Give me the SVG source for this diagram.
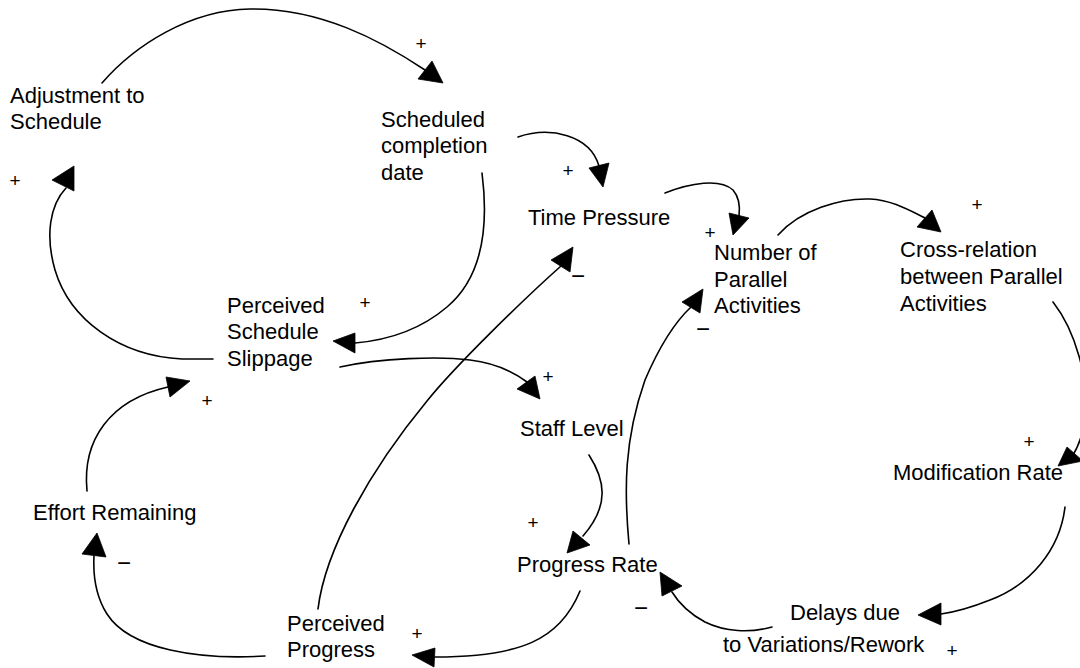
<svg xmlns="http://www.w3.org/2000/svg" width="1080" height="668" viewBox="0 0 1080 668">
<style>
.lbl{font-family:"Liberation Sans",Arial,sans-serif;font-size:22px;fill:#000}
.pl{font-family:"Liberation Sans",Arial,sans-serif;font-size:19px;fill:#000;text-anchor:middle}
.mn{font-family:"Liberation Sans",Arial,sans-serif;font-size:24px;fill:#000;text-anchor:middle}
.ln{fill:none;stroke:#000;stroke-width:1.6;stroke-linecap:round}
.ah{fill:#000;stroke:#000;stroke-width:0.8;stroke-linejoin:round}
</style>
<rect width="1080" height="668" fill="#fff"/>
<g id="connectors">
  <path class="ln" d="M102,83 C135,45 190,10 250,9 C320,8 380,40 425,70"/>
  <polygon class="ah" points="443,83 418,79 432,61"/>
  <path class="ln" d="M482,173 C488,220 485,275 447,307 C420,330 390,340 355,343"/>
  <polygon class="ah" points="333,341 355,333 355,353"/>
  <path class="ln" d="M213,359 L182,359 C120,356 70,320 55,270 C45,235 50,205 66,188"/>
  <polygon class="ah" points="52,180 74,166 74,191"/>
  <path class="ln" d="M87,491 C82,440 110,400 168,387"/>
  <polygon class="ah" points="190,381 166,377 170,397"/>
  <path class="ln" d="M265,656 C200,660 130,650 107,614 C95,595 93,575 94,556"/>
  <polygon class="ah" points="97,533 82,554 106,557"/>
  <path class="ln" d="M580,591 C560,640 520,657 435,657"/>
  <polygon class="ah" points="412,655 435,648 434,667"/>
  <path class="ln" d="M589,455 C605,480 610,505 583,536"/>
  <polygon class="ah" points="567,553 573,531 590,545"/>
  <path class="ln" d="M340,367 C380,358 440,356 470,360 C495,363 515,373 527,382"/>
  <polygon class="ah" points="540,399 517,389 535,376"/>
  <path class="ln" d="M318,609 C325,550 370,470 427,401 C455,366 525,298 561,266"/>
  <polygon class="ah" points="573,247 551,260 570,272"/>
  <path class="ln" d="M518,137 C550,126 590,135 599,166"/>
  <polygon class="ah" points="603,187 589,168 609,163"/>
  <path class="ln" d="M665,193 C690,183 720,178 733,190 C740,198 740,208 739,216"/>
  <polygon class="ah" points="733,235 729,213 749,218"/>
  <path class="ln" d="M778,235 C800,210 840,198 870,199 C890,200 905,208 925,218"/>
  <polygon class="ah" points="941,232 917,227 932,210"/>
  <path class="ln" d="M1053,302 C1075,330 1090,380 1085,420 C1082,438 1078,447 1073,455"/>
  <polygon class="ah" points="1058,466 1067,447 1083,461"/>
  <path class="ln" d="M1065,507 C1060,550 1030,585 990,600 C970,608 955,612 941,614"/>
  <polygon class="ah" points="918,615 941,603 941,625"/>
  <path class="ln" d="M772,627 C750,633 725,632 705,622 C690,614 680,605 672,592"/>
  <polygon class="ah" points="660,572 662,596 682,586"/>
  <path class="ln" d="M629,544 C624,490 624,440 645,380 C660,345 675,322 691,307"/>
  <polygon class="ah" points="703,289 682,302 700,313"/>
  <text class="pl" x="421" y="50">+</text>
  <text class="pl" x="15" y="187">+</text>
  <text class="pl" x="568" y="177">+</text>
  <text class="mn" x="578" y="284">−</text>
  <text class="pl" x="710" y="239">+</text>
  <text class="mn" x="703" y="337">−</text>
  <text class="pl" x="977" y="211">+</text>
  <text class="pl" x="365" y="309">+</text>
  <text class="pl" x="207" y="407">+</text>
  <text class="pl" x="548" y="383">+</text>
  <text class="pl" x="533" y="529">+</text>
  <text class="pl" x="1029" y="448">+</text>
  <text class="mn" x="124" y="571">−</text>
  <text class="mn" x="641" y="616">−</text>
  <text class="pl" x="417" y="640">+</text>
  <text class="pl" x="952" y="657">+</text>
</g>
<g id="adjustment-to-schedule"><text class="lbl" x="10" y="103">Adjustment to</text><text class="lbl" x="10" y="129">Schedule</text></g>
<g id="scheduled-completion-date"><text class="lbl" x="381" y="127">Scheduled</text><text class="lbl" x="381" y="153">completion</text><text class="lbl" x="381" y="180">date</text></g>
<g id="time-pressure"><text class="lbl" x="528" y="225">Time Pressure</text></g>
<g id="number-of-parallel-activities"><text class="lbl" x="714" y="260">Number of</text><text class="lbl" x="714" y="287">Parallel</text><text class="lbl" x="714" y="313">Activities</text></g>
<g id="cross-relation"><text class="lbl" x="900" y="257">Cross-relation</text><text class="lbl" x="900" y="284">between Parallel</text><text class="lbl" x="900" y="311">Activities</text></g>
<g id="perceived-schedule-slippage"><text class="lbl" x="227" y="313">Perceived</text><text class="lbl" x="227" y="339">Schedule</text><text class="lbl" x="227" y="366">Slippage</text></g>
<g id="staff-level"><text class="lbl" x="520" y="436">Staff Level</text></g>
<g id="modification-rate"><text class="lbl" x="893" y="480">Modification Rate</text></g>
<g id="effort-remaining"><text class="lbl" x="33" y="520">Effort Remaining</text></g>
<g id="progress-rate"><text class="lbl" x="517" y="572">Progress Rate</text></g>
<g id="delays"><text class="lbl" x="790" y="620">Delays due</text><text class="lbl" x="723" y="652">to Variations/Rework</text></g>
<g id="perceived-progress"><text class="lbl" x="287" y="631">Perceived</text><text class="lbl" x="287" y="657">Progress</text></g>
</svg>
